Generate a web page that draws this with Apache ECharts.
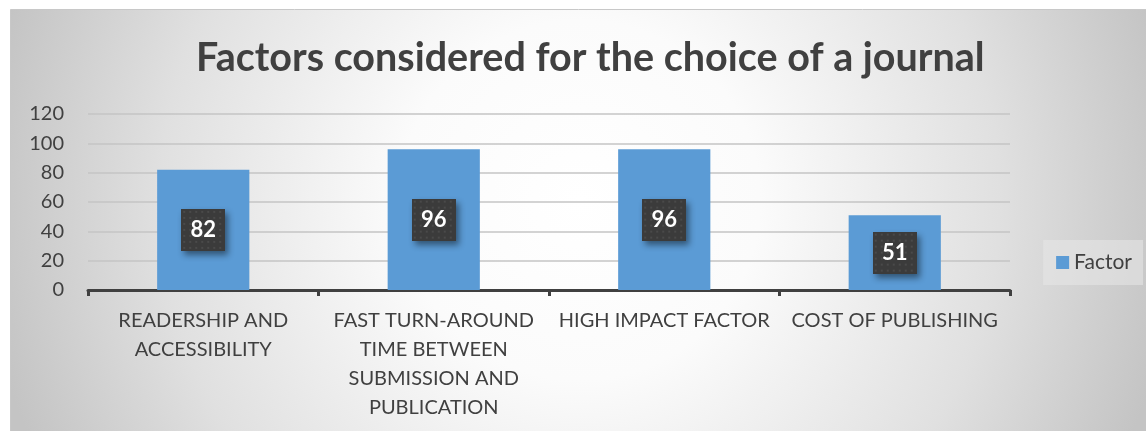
<!DOCTYPE html>
<html>
<head>
<meta charset="utf-8">
<script src="https://cdn.jsdelivr.net/npm/echarts@6/dist/echarts.min.js"></script>
<style>
  html, body { margin: 0; padding: 0; background: #ffffff; }
  #chart { width: 1146px; height: 431px; }
</style>
</head>
<body>
<div id="chart"></div>
<script>
// Survey results: factors authors weigh when choosing a journal
const titleText = 'Factors considered for the choice of a journal';
const categories = [
  'READERSHIP AND\nACCESSIBILITY',
  'FAST TURN-AROUND\nTIME BETWEEN\nSUBMISSION AND\nPUBLICATION',
  'HIGH IMPACT FACTOR',
  'COST OF PUBLISHING'
];
const seriesName = 'Factor';
const factorValues = [82, 96, 96, 51];
const yTicks = { min: 0, max: 120, interval: 20 };

const FONT = 'Lato, "Open Sans", sans-serif';
const TEXT = '#404040';

// dark dotted tile used behind the value labels
function dottedTile(w, h) {
  const c = document.createElement('canvas');
  c.width = w; c.height = h;
  const g = c.getContext('2d');
  g.fillStyle = '#3b3b3b';
  g.fillRect(0, 0, w, h);
  g.fillStyle = '#4a4a4a';
  for (let y = 2; y < h; y += 6) {
    for (let x = 2; x < w; x += 6) {
      g.fillRect(x, y, 2, 2);
    }
  }
  return c;
}

const chart = echarts.init(document.getElementById('chart'), null, { renderer: 'canvas' });

chart.setOption({
  backgroundColor: '#ffffff',
  graphic: [{
    type: 'rect',
    z: -10,
    silent: true,
    shape: { x: 10.5, y: 9.5, width: 1136, height: 423 },
    style: {
      // soft white spot in the middle fading to grey at the frame edges
      fill: new echarts.graphic.RadialGradient(580, 200, 600, [
        { offset: 0, color: '#ffffff' },
        { offset: 0.3, color: '#fbfbfb' },
        { offset: 0.7, color: '#e0e0e0' },
        { offset: 1, color: '#c4c4c4' }
      ], true),
      stroke: '#c8c8c8',
      lineWidth: 1
    }
  }],
  title: {
    text: titleText,
    left: 191,
    top: 33,
    textStyle: { fontFamily: FONT, fontSize: 39.5, fontWeight: 'bold', color: TEXT }
  },
  legend: {
    data: [seriesName],
    right: 3,
    top: 240,
    orient: 'vertical',
    backgroundColor: 'rgba(232,232,232,0.55)',
    padding: [12, 11, 12, 13],
    itemWidth: 13,
    itemHeight: 13,
    itemGap: 0,
    icon: 'rect',
    textStyle: { fontFamily: FONT, fontSize: 21, color: TEXT }
  },
  grid: { left: 88, right: 136, top: 114, bottom: 141, containLabel: false },
  xAxis: {
    type: 'category',
    data: categories,
    axisLine: { lineStyle: { color: '#404040', width: 3 } },
    axisTick: { show: true, length: 6, lineStyle: { color: '#404040', width: 3 } },
    axisLabel: {
      margin: 16,
      fontFamily: FONT,
      fontSize: 20,
      color: TEXT,
      lineHeight: 29,
      interval: 0
    }
  },
  yAxis: {
    type: 'value',
    min: yTicks.min,
    max: yTicks.max,
    interval: yTicks.interval,
    axisLine: { show: false },
    axisTick: { show: false },
    splitLine: { lineStyle: { color: '#c4c4c4', width: 1.5 } },
    axisLabel: { margin: 24, fontFamily: FONT, fontSize: 20, color: TEXT }
  },
  series: [{
    name: seriesName,
    type: 'bar',
    data: factorValues,
    barWidth: '40%',
    itemStyle: { color: '#5b9bd5' },
    label: {
      show: true,
      position: 'inside',
      fontFamily: FONT,
      fontSize: 22,
      fontWeight: 'bold',
      color: '#ffffff',
      backgroundColor: { image: dottedTile(44, 42) },
      width: 26,
      align: 'center',
      padding: [11, 9, 9, 9],
      shadowBlur: 6,
      shadowOffsetX: 3,
      shadowOffsetY: 4,
      shadowColor: 'rgba(0,0,0,0.45)'
    }
  }]
});
</script>
</body>
</html>
